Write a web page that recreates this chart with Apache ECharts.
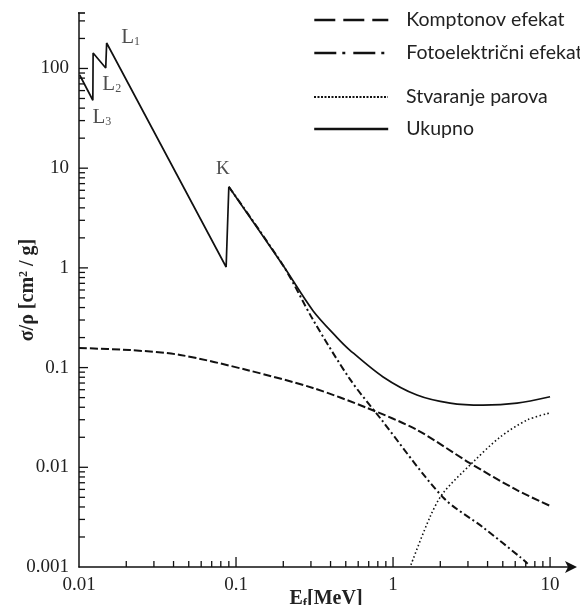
<!DOCTYPE html>
<html><head><meta charset="utf-8">
<script src="https://cdn.jsdelivr.net/npm/echarts@6/dist/echarts.min.js"></script>
<style>html,body{margin:0;padding:0;background:#fff}#c{width:580px;height:605px}</style>
</head><body><div id="c"></div>
<script>
// ---- data ----
const seriesNames = ['Komptonov efekat', 'Fotoelektrični efekat', 'Stvaranje parova', 'Ukupno'];
const xTickLabels = ['0.01', '0.1', '1', '10'];
const yTickLabels = ['0.001', '0.01', '0.1', '1', '10', '100'];
const tickSteps = [1, 2, 3, 4, 5, 6, 7, 8, 9];

const comptonE = [0.01, 0.021, 0.044, 0.1175, 0.309, 0.683, 1.42, 3.09, 6.16, 10];
const comptonV = [0.157, 0.150, 0.134, 0.0946, 0.0624, 0.0394, 0.0237, 0.0110, 0.0059, 0.0041];

const photoE = [0.090, 0.2, 0.31, 0.53, 0.83, 2.08, 3.74, 6.44, 7.2];
const photoV = [6.5, 1.05, 0.30, 0.077, 0.031, 0.005, 0.0025, 0.00126, 0.00108];

const pairE = [1.3, 1.72, 2.08, 3.18, 4.81, 7.15, 10];
const pairV = [0.00105, 0.00318, 0.0055, 0.011, 0.0201, 0.0298, 0.0351];

const totalEdgeE = [0.0101, 0.01225, 0.0123, 0.0148, 0.0150, 0.0865, 0.090];
const totalEdgeV = [86, 48, 143, 101, 180, 1.02, 6.5];
const totalTailE = [0.090, 0.2, 0.31, 0.44, 0.53, 0.86, 1.42, 2.31, 3.74, 6.16, 10];
const totalTailV = [6.5, 1.05, 0.37, 0.20, 0.150, 0.081, 0.053, 0.044, 0.042, 0.044, 0.051];

const edgeNames = ['L{s|1}', 'L{s|2}', 'L{s|3}', 'K'];
const edgeIndex = [4, 3, 1, 6];   // points of totalEdge the labels belong to

// ---- chart ----
const X_MIN = 0.01, X_MAX = 14, Y_MIN = 0.001, Y_MAX = 360;
const W = 580, H = 605, G = { left: 79, right: 7, top: 13, bottom: 38 };
const INK = '#111';
const zip = (a, b) => a.map((x, i) => [x, b[i]]);
const tickFmt = labels => v => {
  for (const s of labels) if (Math.abs(Math.log10(v) - Math.log10(Number(s))) < 1e-6) return s;
  return '';
};

const edgeOffsets = [[24, -6], [6, 16], [9, 17], [-6, -18]];
const annot = edgeIndex.map((idx, i) => ({
  value: [totalEdgeE[idx], totalEdgeV[idx]],
  label: { formatter: edgeNames[i], offset: edgeOffsets[i], fontSize: i === 3 ? 19 : 21 }
}));

function legendRow(name, rowTop, type, width) {
  return {
    data: [name], left: 313, top: rowTop, padding: 0, itemWidth: 74, itemHeight: 14,
    selectedMode: false,
    itemStyle: { opacity: 0 },
    lineStyle: { type: type, width: width, color: INK, cap: 'butt' },
    textStyle: { fontFamily: 'Lato', fontSize: 19.5, color: '#222', padding: [0, 0, 0, 13] }
  };
}

// inward tick marks as short segments in data space (length in px -> factor on the log scale)
const xPxPerDec = (W - G.left - G.right) / Math.log10(X_MAX / X_MIN);
const yPxPerDec = (H - G.top - G.bottom) / Math.log10(Y_MAX / Y_MIN);
const up = px => Math.pow(10, px / yPxPerDec);
const right = px => Math.pow(10, px / xPxPerDec);
const tickSeries = [];
function tickLine(a, b, w) {
  tickSeries.push({ type: 'line', data: [a, b], symbol: 'none', silent: true, clip: false, z: 3,
    lineStyle: { color: INK, width: w || 1.3, cap: 'butt' }, emphasis: { disabled: true }, tooltip: { show: false } });
}
for (let k = -2; k <= 1; k++) for (const m of tickSteps) {
  const v = m * Math.pow(10, k);
  if (v <= X_MIN * 1.0001 || v >= X_MAX) continue;
  tickLine([v, Y_MIN], [v, Y_MIN * up(m === 1 ? 10 : 6)]);
}
for (let k = -3; k <= 2; k++) for (const m of tickSteps) {
  const v = m * Math.pow(10, k);
  if (v <= Y_MIN * 1.0001 || v >= Y_MAX) continue;
  tickLine([X_MIN, v], [X_MIN * right(m === 1 ? 9 : 6), v]);
}
tickLine([X_MIN / right(4), Y_MAX], [X_MIN * right(6), Y_MAX], 1.6);

const chart = echarts.init(document.getElementById('c'), null, { renderer: 'canvas' });
chart.setOption({
  animation: false,
  backgroundColor: '#fff',
  grid: { left: G.left, right: G.right, top: G.top, bottom: G.bottom, outerBoundsMode: 'none', containLabel: false },
  legend: [
    legendRow(seriesNames[0], 10, [21, 8], 2.6),
    legendRow(seriesNames[1], 43, [22, 6, 3, 8], 2.6),
    legendRow(seriesNames[2], 87, [2, 1.5], 2),
    legendRow(seriesNames[3], 119, 'solid', 2.4)
  ],
  xAxis: {
    type: 'log', logBase: 10, min: X_MIN, max: X_MAX,
    name: 'E{sub|f}[MeV]', nameLocation: 'middle', nameGap: 20, nameMoveOverlap: false,
    nameTextStyle: { fontFamily: 'Liberation Serif', fontWeight: 'bold', fontSize: 20, color: '#222',
      rich: { sub: { fontFamily: 'Liberation Serif', fontWeight: 'bold', fontSize: 13, verticalAlign: 'bottom', padding: [10, 0, 0, 0] } } },
    axisLine: { show: true, lineStyle: { color: INK, width: 1.5 }, symbol: ['none', 'arrow'], symbolSize: [9, 12], symbolOffset: [0, 4] },
    axisTick: { show: false },
    axisLabel: { formatter: tickFmt(xTickLabels), fontFamily: 'Liberation Serif', fontSize: 19, color: '#222', margin: 9 },
    splitLine: { show: false }
  },
  yAxis: {
    type: 'log', logBase: 10, min: Y_MIN, max: Y_MAX,
    name: 'σ/ρ [cm{sup|2} / g]', nameLocation: 'middle', nameRotate: 90, nameGap: 41, nameMoveOverlap: false,
    nameTextStyle: { fontFamily: 'Liberation Serif', fontWeight: 'bold', fontSize: 20, color: '#222',
      rich: { sup: { fontFamily: 'Liberation Serif', fontWeight: 'bold', fontSize: 12, verticalAlign: 'top', padding: [0, 0, 8, 0] } } },
    axisLine: { show: true, lineStyle: { color: INK, width: 1.5 } },
    axisTick: { show: false },
    axisLabel: { formatter: tickFmt(yTickLabels), fontFamily: 'Liberation Serif', fontSize: 19, color: '#222', margin: 10 },
    splitLine: { show: false }
  },
  series: [
    { name: seriesNames[0], type: 'line', symbol: 'none', smooth: 0.3, data: zip(comptonE, comptonV),
      itemStyle: { color: INK }, lineStyle: { color: INK, width: 2, type: [8, 3] } },
    { name: seriesNames[1], type: 'line', symbol: 'none', smooth: 0.3, data: zip(photoE, photoV),
      itemStyle: { color: INK }, lineStyle: { color: INK, width: 2, type: [7, 3, 2, 3] } },
    { name: seriesNames[2], type: 'line', symbol: 'none', smooth: 0.3, data: zip(pairE, pairV),
      itemStyle: { color: INK }, lineStyle: { color: INK, width: 1.6, type: [1.5, 2.5] } },
    { name: seriesNames[3], type: 'line', symbol: 'none', data: zip(totalEdgeE, totalEdgeV),
      itemStyle: { color: INK }, lineStyle: { color: INK, width: 1.7 } },
    { name: seriesNames[3], type: 'line', symbol: 'none', smooth: 0.3, data: zip(totalTailE, totalTailV),
      itemStyle: { color: INK }, lineStyle: { color: INK, width: 1.7 } },
    { name: 'edges', type: 'scatter', symbolSize: 0, data: annot, silent: true,
      label: { show: true, position: 'inside', fontFamily: 'Liberation Serif', color: '#222',
        rich: { s: { fontFamily: 'Liberation Serif', fontSize: 12, verticalAlign: 'bottom', padding: [10, 0, 0, 0] } } } }
  ].concat(tickSeries)
});
</script></body></html>
